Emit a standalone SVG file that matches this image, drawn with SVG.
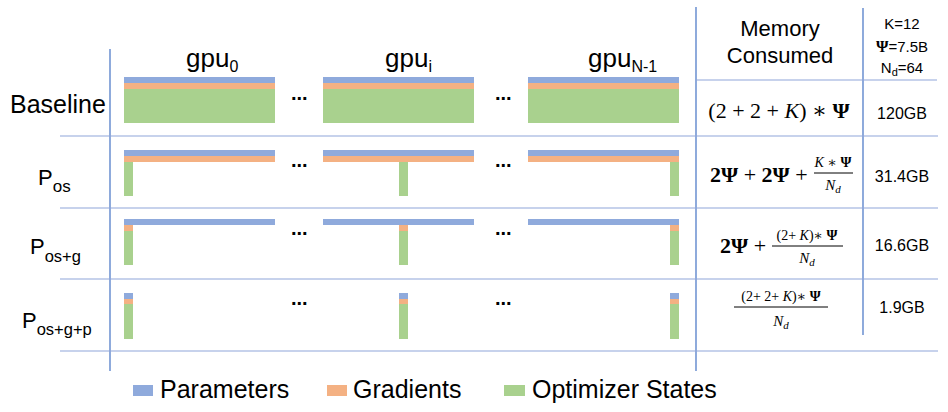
<svg xmlns="http://www.w3.org/2000/svg" width="948" height="412" viewBox="0 0 948 412">
<style>
.p{fill:#8FAADC}.g{fill:#F4B183}.o{fill:#A9D18E}
.t{font-family:"Liberation Sans","DejaVu Sans",sans-serif;fill:#000}
.m{font-family:"Liberation Serif","DejaVu Serif",serif;fill:#000}
.bd{font-weight:bold}.it{font-style:italic}
.dots{font-family:"Liberation Sans",sans-serif;font-size:20px;font-weight:bold;fill:#000}
.gv{stroke:#4472C4;stroke-width:1.2;fill:none}
.gh{stroke:#8FA6DA;stroke-width:1.2;fill:none}
.fb{stroke:#000;stroke-width:1}
</style>
<rect width="948" height="412" fill="#fff"/>
<g id="grid">
<line class="gv" x1="110" y1="49" x2="110" y2="371"/>
<line class="gv" x1="696" y1="7" x2="696" y2="371"/>
<line class="gv" x1="863" y1="8" x2="863" y2="335"/>
<line class="gh" x1="696" y1="80" x2="937" y2="80"/>
<line class="gh" x1="60" y1="136" x2="938" y2="136"/>
<line class="gh" x1="60" y1="208" x2="938" y2="208"/>
<line class="gh" x1="60" y1="279" x2="938" y2="279"/>
<line class="gh" x1="60" y1="351" x2="938" y2="351"/>
</g>
<g id="headers">
<text class="t" x="186" y="67" font-size="26">gpu<tspan font-size="16" dy="5">0</tspan></text>
<text class="t" x="385" y="67" font-size="26">gpu<tspan font-size="16" dy="5">i</tspan></text>
<text class="t" x="588" y="67" font-size="26">gpu<tspan font-size="16" dy="5">N-1</tspan></text>
<text class="t" x="780" y="36" font-size="22" text-anchor="middle">Memory</text>
<text class="t" x="780" y="63" font-size="22" text-anchor="middle">Consumed</text>
<text class="t" x="902" y="29" font-size="15" text-anchor="middle">K=12</text>
<text class="t" x="902" y="52" font-size="15" text-anchor="middle"><tspan class="m bd" font-size="16">Ψ</tspan>=7.5B</text>
<text class="t" x="902" y="73" font-size="15" text-anchor="middle">N<tspan font-size="11" dy="3">d</tspan><tspan dy="-3">=64</tspan></text>
</g>
<g id="row-baseline">
<text class="t" x="10" y="113" font-size="25">Baseline</text>
<rect class="p" x="124" y="77" width="151" height="6"/><rect class="g" x="124" y="83" width="151" height="6"/><rect class="o" x="124" y="89" width="151" height="34"/>
<rect class="p" x="323" y="77" width="151" height="6"/><rect class="g" x="323" y="83" width="151" height="6"/><rect class="o" x="323" y="89" width="151" height="34"/>
<rect class="p" x="528" y="77" width="151" height="6"/><rect class="g" x="528" y="83" width="151" height="6"/><rect class="o" x="528" y="89" width="151" height="34"/>
<text class="dots" x="291" y="99.5">...</text><text class="dots" x="495" y="99.5">...</text>
<text class="m" x="779" y="118" font-size="22" text-anchor="middle">(2 + 2 + <tspan class="it">K</tspan>) ∗ <tspan class="bd">Ψ</tspan></text>
<text class="t" x="902" y="119" font-size="16" text-anchor="middle">120GB</text>
</g>
<g id="row-pos">
<text class="t" x="38" y="185" font-size="22">P<tspan font-size="17" dy="7">os</tspan></text>
<rect class="p" x="124" y="150" width="151" height="6"/><rect class="g" x="124" y="156" width="151" height="6"/><rect class="o" x="124" y="162" width="9" height="34"/>
<rect class="p" x="323" y="150" width="151" height="6"/><rect class="g" x="323" y="156" width="151" height="6"/><rect class="o" x="399" y="162" width="9" height="34"/>
<rect class="p" x="528" y="150" width="151" height="6"/><rect class="g" x="528" y="156" width="151" height="6"/><rect class="o" x="670" y="162" width="9" height="34"/>
<text class="dots" x="291" y="167">...</text><text class="dots" x="495" y="167">...</text>
<text class="m bd" x="710" y="182" font-size="22">2Ψ <tspan font-weight="normal">+</tspan> 2Ψ <tspan font-weight="normal">+</tspan></text>
<text class="m" x="833" y="167" font-size="14" text-anchor="middle"><tspan class="it">K</tspan> ∗ <tspan class="bd">Ψ</tspan></text>
<line class="fb" x1="814" y1="173" x2="853" y2="173"/>
<text class="m it" x="833" y="190" font-size="15" text-anchor="middle">N<tspan font-size="11" dy="3">d</tspan></text>
<text class="t" x="902" y="182" font-size="16" text-anchor="middle">31.4GB</text>
</g>
<g id="row-pos-g">
<text class="t" x="30" y="254" font-size="22">P<tspan font-size="16.5" dy="8">os+g</tspan></text>
<rect class="p" x="124" y="219" width="151" height="6"/><rect class="g" x="124" y="225" width="9" height="6"/><rect class="o" x="124" y="231" width="9" height="34"/>
<rect class="p" x="323" y="219" width="151" height="6"/><rect class="g" x="399" y="225" width="9" height="6"/><rect class="o" x="399" y="231" width="9" height="34"/>
<rect class="p" x="528" y="219" width="151" height="6"/><rect class="g" x="670" y="225" width="9" height="6"/><rect class="o" x="670" y="231" width="9" height="34"/>
<text class="dots" x="291" y="235">...</text><text class="dots" x="495" y="235">...</text>
<text class="m bd" x="720" y="253" font-size="22">2Ψ <tspan font-weight="normal">+</tspan></text>
<text class="m" x="807" y="240" font-size="14" text-anchor="middle">(2+ <tspan class="it">K</tspan>)∗ <tspan class="bd">Ψ</tspan></text>
<line class="fb" x1="772" y1="246" x2="843" y2="246"/>
<text class="m it" x="807" y="263" font-size="15" text-anchor="middle">N<tspan font-size="11" dy="3">d</tspan></text>
<text class="t" x="902" y="251" font-size="16" text-anchor="middle">16.6GB</text>
</g>
<g id="row-pos-g-p">
<text class="t" x="22" y="328" font-size="22">P<tspan font-size="16.5" dy="7">os+g+p</tspan></text>
<rect class="p" x="124" y="293" width="9" height="6"/><rect class="g" x="124" y="299" width="9" height="5"/><rect class="o" x="124" y="304" width="9" height="35"/>
<rect class="p" x="399" y="293" width="9" height="6"/><rect class="g" x="399" y="299" width="9" height="5"/><rect class="o" x="399" y="304" width="9" height="35"/>
<rect class="p" x="670" y="293" width="9" height="6"/><rect class="g" x="670" y="299" width="9" height="5"/><rect class="o" x="670" y="304" width="9" height="35"/>
<text class="dots" x="291" y="305">...</text><text class="dots" x="495" y="305">...</text>
<text class="m" x="781" y="301" font-size="14" text-anchor="middle">(2+ 2+ <tspan class="it">K</tspan>)∗ <tspan class="bd">Ψ</tspan></text>
<line class="fb" x1="734" y1="307" x2="828" y2="307"/>
<text class="m it" x="781" y="326" font-size="15" text-anchor="middle">N<tspan font-size="11" dy="3">d</tspan></text>
<text class="t" x="902" y="313" font-size="16" text-anchor="middle">1.9GB</text>
</g>
<g id="legend">
<rect class="p" x="133" y="385" width="20" height="11"/>
<text class="t" x="160" y="398" font-size="25">Parameters</text>
<rect class="g" x="327" y="385" width="20" height="11"/>
<text class="t" x="353" y="398" font-size="25">Gradients</text>
<rect class="o" x="504" y="385" width="21" height="11"/>
<text class="t" x="532" y="398" font-size="25">Optimizer States</text>
</g>
</svg>
